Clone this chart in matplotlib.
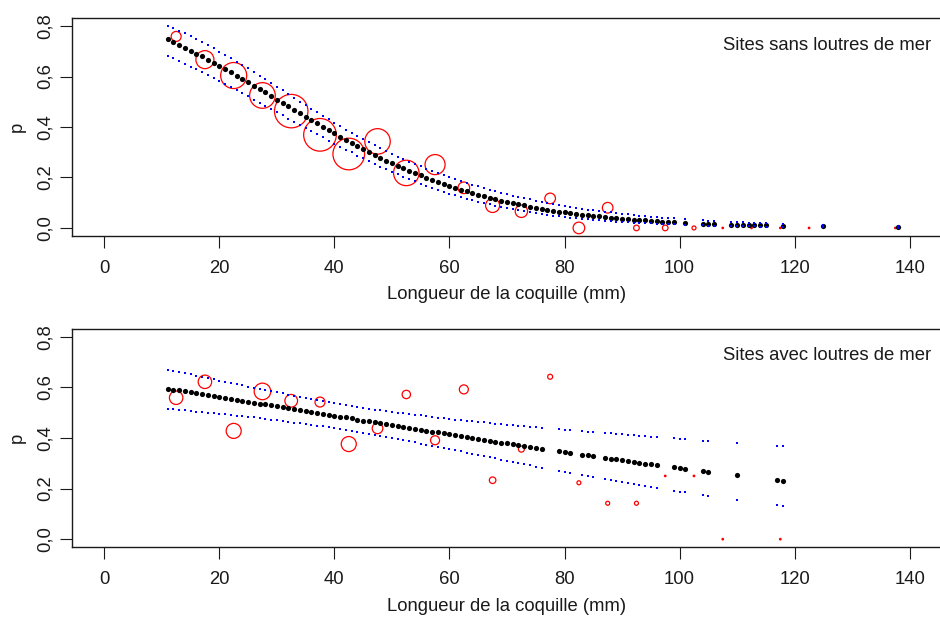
import matplotlib
matplotlib.use("Agg")
import matplotlib.pyplot as plt

plt.rcParams['font.family'] = ['Liberation Sans', 'DejaVu Sans']

# ---- Sites sans loutres de mer : valeurs ajustees et IC 95 % ----
x_sans = [11, 12, 13, 14, 15, 16, 17, 18, 19, 20,
          21, 22, 23, 24, 25, 26, 27, 28, 29, 30,
          31, 32, 33, 34, 35, 36, 37, 38, 39, 40,
          41, 42, 43, 44, 45, 46, 47, 48, 49, 50,
          51, 52, 53, 54, 55, 56, 57, 58, 59, 60,
          61, 62, 63, 64, 65, 66, 67, 68, 69, 70,
          71, 72, 73, 74, 75, 76, 77, 78, 79, 80,
          81, 82, 83, 84, 85, 86, 87, 88, 89, 90,
          91, 92, 93, 94, 95, 96, 97, 98, 99,
          101, 104, 105, 106, 109, 110, 111, 112, 113, 114, 115, 118, 125, 138]
fit_sans = [0.747, 0.736, 0.726, 0.714, 0.703, 0.691, 0.680, 0.667, 0.655, 0.643,
            0.630, 0.617, 0.604, 0.591, 0.577, 0.564, 0.550, 0.537, 0.523, 0.509,
            0.495, 0.482, 0.468, 0.454, 0.441, 0.427, 0.414, 0.401, 0.387, 0.375,
            0.362, 0.349, 0.337, 0.325, 0.313, 0.301, 0.289, 0.278, 0.267, 0.257,
            0.246, 0.236, 0.227, 0.217, 0.208, 0.199, 0.190, 0.182, 0.174, 0.166,
            0.159, 0.151, 0.145, 0.138, 0.131, 0.125, 0.119, 0.114, 0.108, 0.103,
            0.098, 0.093, 0.089, 0.084, 0.080, 0.076, 0.073, 0.069, 0.065, 0.062,
            0.059, 0.056, 0.053, 0.051, 0.048, 0.046, 0.043, 0.041, 0.039, 0.037,
            0.035, 0.033, 0.031, 0.030, 0.028, 0.027, 0.025, 0.024, 0.023,
            0.020, 0.017, 0.016, 0.016, 0.013, 0.013, 0.012, 0.011, 0.011, 0.010, 0.010, 0.008, 0.006, 0.003]
haut_sans = [0.802, 0.792, 0.782, 0.771, 0.760, 0.748, 0.737, 0.724, 0.712, 0.699,
             0.686, 0.673, 0.659, 0.646, 0.632, 0.618, 0.603, 0.589, 0.574, 0.560,
             0.545, 0.530, 0.516, 0.501, 0.487, 0.472, 0.458, 0.444, 0.430, 0.416,
             0.403, 0.390, 0.377, 0.364, 0.352, 0.340, 0.328, 0.316, 0.305, 0.294,
             0.283, 0.273, 0.263, 0.253, 0.244, 0.235, 0.226, 0.217, 0.209, 0.201,
             0.193, 0.186, 0.178, 0.171, 0.165, 0.158, 0.152, 0.145, 0.140, 0.134,
             0.128, 0.123, 0.118, 0.113, 0.108, 0.104, 0.100, 0.095, 0.091, 0.087,
             0.084, 0.080, 0.077, 0.073, 0.070, 0.067, 0.064, 0.062, 0.059, 0.056,
             0.054, 0.052, 0.049, 0.047, 0.045, 0.043, 0.041, 0.039, 0.038,
             0.034, 0.030, 0.029, 0.027, 0.024, 0.023, 0.022, 0.021, 0.020, 0.019, 0.018, 0.016, 0.011, 0.006]
bas_sans = [0.682, 0.672, 0.661, 0.651, 0.639, 0.628, 0.617, 0.605, 0.594, 0.582,
            0.570, 0.558, 0.546, 0.534, 0.521, 0.509, 0.496, 0.484, 0.471, 0.459,
            0.446, 0.433, 0.421, 0.408, 0.396, 0.383, 0.371, 0.359, 0.346, 0.334,
            0.322, 0.310, 0.299, 0.287, 0.276, 0.265, 0.254, 0.243, 0.233, 0.223,
            0.213, 0.203, 0.194, 0.185, 0.176, 0.167, 0.159, 0.151, 0.144, 0.136,
            0.129, 0.123, 0.116, 0.110, 0.104, 0.099, 0.093, 0.088, 0.083, 0.079,
            0.074, 0.070, 0.066, 0.063, 0.059, 0.056, 0.052, 0.049, 0.047, 0.044,
            0.041, 0.039, 0.037, 0.035, 0.032, 0.031, 0.029, 0.027, 0.025, 0.024,
            0.022, 0.021, 0.020, 0.019, 0.018, 0.017, 0.016, 0.015, 0.014,
            0.012, 0.010, 0.009, 0.009, 0.007, 0.007, 0.006, 0.006, 0.006, 0.005, 0.005, 0.004, 0.003, 0.001]

# proportions observees par classe de 5 mm (taille du cercle ~ effectif)
classe_sans = [12.5, 17.5, 22.5, 27.5, 32.5, 37.5, 42.5, 47.5, 52.5, 57.5,
               62.5, 67.5, 72.5, 77.5, 82.5, 87.5, 92.5, 97.5, 102.5,
               107.5, 112.5, 117.5, 122.5, 137.5]
prop_sans = [0.759, 0.667, 0.604, 0.525, 0.463, 0.369, 0.293, 0.343, 0.218, 0.251,
             0.159, 0.089, 0.066, 0.117, 0.000, 0.080, 0.000, 0.000, 0.000,
             0.000, 0.000, 0.000, 0.000, 0.000]
n_sans = [44, 144, 300, 291, 496, 472, 444, 287, 287, 178,
          60, 87, 68, 50, 60, 50, 14, 14, 7,
          1, 1, 1, 1, 1]

# ---- Sites avec loutres de mer ----
x_avec = [11, 12, 13, 14, 15, 16, 17, 18, 19, 20,
          21, 22, 23, 24, 25, 26, 27, 28, 29, 30,
          31, 32, 33, 34, 35, 36, 37, 38, 39, 40,
          41, 42, 43, 44, 45, 46, 47, 48, 49, 50,
          51, 52, 53, 54, 55, 56, 57, 58, 59, 60,
          61, 62, 63, 64, 65, 66, 67, 68, 69, 70,
          71, 72, 73, 74, 75, 76, 79, 80, 81, 83, 84, 85,
          87, 88, 89, 90, 91, 92, 93, 94, 95, 96,
          99, 100, 101, 104, 105, 110, 117, 118]
fit_avec = [0.595, 0.591, 0.588, 0.584, 0.580, 0.577, 0.573, 0.569, 0.566, 0.562,
            0.558, 0.555, 0.551, 0.547, 0.544, 0.540, 0.536, 0.533, 0.529, 0.525,
            0.522, 0.518, 0.514, 0.510, 0.507, 0.503, 0.499, 0.495, 0.492, 0.488,
            0.484, 0.481, 0.477, 0.473, 0.469, 0.466, 0.462, 0.458, 0.455, 0.451,
            0.447, 0.444, 0.440, 0.436, 0.433, 0.429, 0.425, 0.422, 0.418, 0.414,
            0.411, 0.407, 0.404, 0.400, 0.396, 0.393, 0.389, 0.386, 0.382, 0.379,
            0.375, 0.372, 0.368, 0.365, 0.361, 0.358, 0.348, 0.344, 0.341, 0.334, 0.331, 0.328,
            0.321, 0.318, 0.315, 0.312, 0.308, 0.305, 0.302, 0.299, 0.296, 0.293,
            0.284, 0.281, 0.278, 0.269, 0.266, 0.252, 0.232, 0.230]
haut_avec = [0.670, 0.665, 0.661, 0.656, 0.651, 0.646, 0.642, 0.637, 0.632, 0.627,
             0.622, 0.617, 0.613, 0.608, 0.603, 0.598, 0.594, 0.589, 0.585, 0.580,
             0.576, 0.571, 0.567, 0.562, 0.558, 0.554, 0.550, 0.545, 0.542, 0.538,
             0.534, 0.530, 0.526, 0.523, 0.519, 0.516, 0.512, 0.509, 0.506, 0.503,
             0.500, 0.497, 0.494, 0.491, 0.489, 0.486, 0.483, 0.480, 0.478, 0.476,
             0.473, 0.471, 0.468, 0.466, 0.464, 0.462, 0.459, 0.457, 0.455, 0.453,
             0.451, 0.449, 0.447, 0.445, 0.443, 0.441, 0.435, 0.433, 0.431, 0.427, 0.425, 0.423,
             0.420, 0.418, 0.416, 0.414, 0.412, 0.410, 0.409, 0.407, 0.405, 0.404,
             0.398, 0.396, 0.395, 0.390, 0.388, 0.380, 0.368, 0.367]
bas_avec = [0.515, 0.513, 0.511, 0.509, 0.506, 0.504, 0.502, 0.500, 0.497, 0.495,
            0.493, 0.490, 0.488, 0.485, 0.483, 0.481, 0.478, 0.475, 0.473, 0.470,
            0.467, 0.464, 0.461, 0.458, 0.455, 0.452, 0.449, 0.446, 0.442, 0.439,
            0.435, 0.431, 0.428, 0.424, 0.420, 0.416, 0.412, 0.408, 0.404, 0.400,
            0.396, 0.392, 0.387, 0.383, 0.378, 0.374, 0.369, 0.365, 0.360, 0.356,
            0.351, 0.347, 0.342, 0.337, 0.333, 0.328, 0.324, 0.319, 0.314, 0.310,
            0.305, 0.301, 0.296, 0.292, 0.287, 0.283, 0.270, 0.266, 0.261, 0.253, 0.249, 0.245,
            0.237, 0.233, 0.229, 0.225, 0.221, 0.217, 0.213, 0.209, 0.206, 0.202,
            0.191, 0.188, 0.185, 0.175, 0.171, 0.156, 0.136, 0.133]

classe_avec = [12.5, 17.5, 22.5, 27.5, 32.5, 37.5, 42.5, 47.5, 52.5, 57.5,
               62.5, 67.5, 72.5, 77.5, 82.5, 87.5, 92.5, 97.5, 102.5,
               107.5, 117.5]
prop_avec = [0.559, 0.622, 0.428, 0.584, 0.547, 0.542, 0.376, 0.438, 0.572, 0.391,
             0.592, 0.233, 0.356, 0.642, 0.223, 0.142, 0.142, 0.250, 0.250,
             0.000, 0.000]
n_avec = [80, 80, 100, 122, 71, 44, 100, 50, 31, 36,
          36, 19, 16, 11, 7, 7, 7, 1, 1,
          1, 1]

xticks = [0, 20, 40, 60, 80, 100, 120, 140]
yticks = [0.0, 0.2, 0.4, 0.6, 0.8]
ytick_labels = ["0,0", "0,2", "0,4", "0,6", "0,8"]

FS = 13.3
INK = '#1a1a1a'


def panel(ax, x, fit, haut, bas, classes, prop, n, titre):
    # cercles rouges : aire proportionnelle a l'effectif
    ax.scatter(classes, prop, s=[1.17 * v for v in n], facecolors='none',
               edgecolors='#ff0000', linewidths=0.9, zorder=2)
    ax.scatter(x, fit, s=14, color='black', linewidths=0, zorder=3)
    ax.scatter(x, haut, s=3.6, marker='s', color='#0000ff', linewidths=0, zorder=4)
    ax.scatter(x, bas, s=3.6, marker='s', color='#0000ff', linewidths=0, zorder=4)

    ax.set_xlim(-5.6, 145.6)
    ax.set_ylim(-0.032, 0.832)
    ax.set_xticks(xticks)
    ax.set_xticklabels([str(t) for t in xticks])
    ax.set_yticks(yticks)
    ax.set_yticklabels(ytick_labels, rotation=90, va='center')
    ax.tick_params(axis='both', direction='out', length=8.6, width=0.8,
                   color=INK, labelcolor=INK, labelsize=FS)
    ax.tick_params(axis='x', pad=8.6)
    ax.tick_params(axis='y', pad=4.5)
    for sp in ax.spines.values():
        sp.set_linewidth(1.0)
        sp.set_color(INK)
    ax.set_xlabel("Longueur de la coquille (mm)", fontsize=FS, color=INK, labelpad=6.9)
    ax.set_ylabel("p", fontsize=FS, color=INK, labelpad=8)
    ax.text(0.988, 0.855, titre, transform=ax.transAxes, ha='right', va='baseline',
            fontsize=FS, color=INK)


fig = plt.figure(figsize=(9.4, 6.17), dpi=100)
ax1 = fig.add_axes([0.0766, 0.6175, 0.9255, 0.3533])
ax2 = fig.add_axes([0.0766, 0.1130, 0.9255, 0.3543])

panel(ax1, x_sans, fit_sans, haut_sans, bas_sans, classe_sans, prop_sans, n_sans,
      "Sites sans loutres de mer")
panel(ax2, x_avec, fit_avec, haut_avec, bas_avec, classe_avec, prop_avec, n_avec,
      "Sites avec loutres de mer")

fig.savefig("out.png", dpi=100)
